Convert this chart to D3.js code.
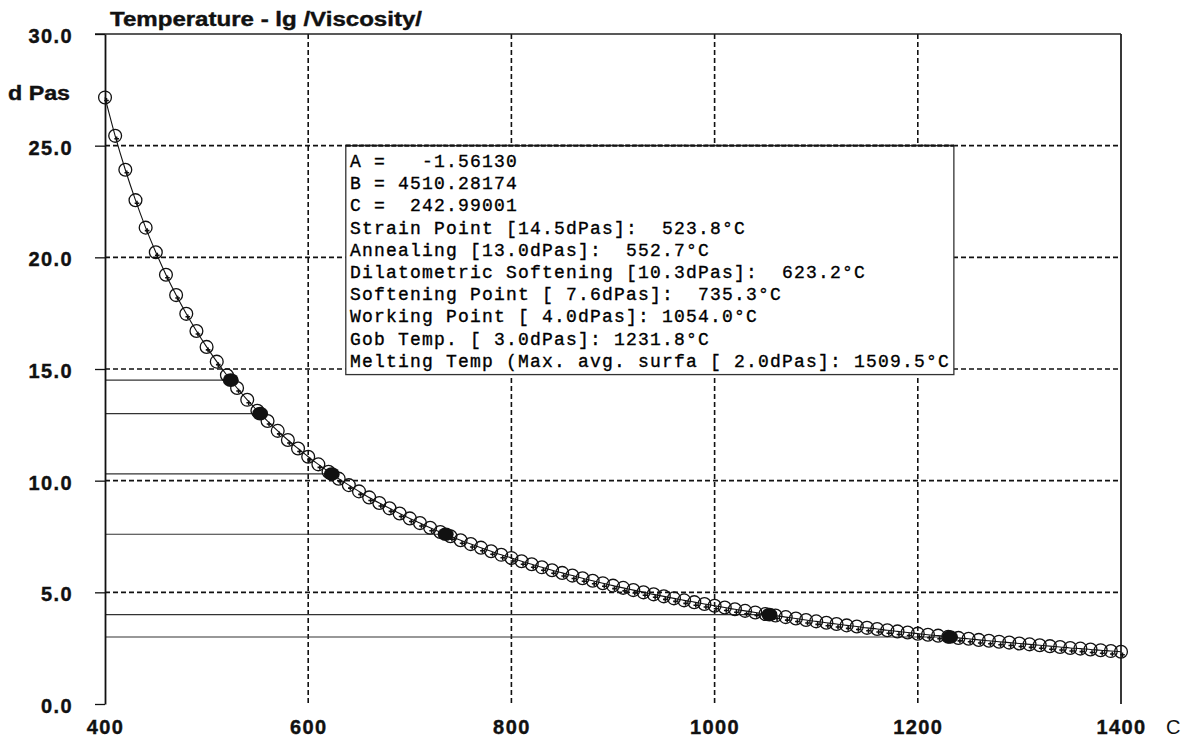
<!DOCTYPE html>
<html>
<head>
<meta charset="utf-8">
<script src="https://cdn.jsdelivr.net/npm/d3@7"></script>
<style>
  html, body { margin: 0; padding: 0; background: #fff; }
  svg { display: block; }
</style>
</head>
<body>
<svg id="chart" width="1191" height="741"></svg>
<script>
// ---------- data ----------
const temps = [400,410,420,430,440,450,460,470,480,490,500,510,520,530,540,550,560,570,580,590,
  600,610,620,630,640,650,660,670,680,690,700,710,720,730,740,750,760,770,780,790,
  800,810,820,830,840,850,860,870,880,890,900,910,920,930,940,950,960,970,980,990,
  1000,1010,1020,1030,1040,1050,1060,1070,1080,1090,1100,1110,1120,1130,1140,1150,1160,1170,1180,1190,
  1200,1210,1220,1230,1240,1250,1260,1270,1280,1290,1300,1310,1320,1330,1340,1350,1360,1370,1380,1390,1400];
const lgVisc = [27.16,25.44,23.92,22.56,21.33,20.23,19.22,18.31,17.47,16.70,15.99,15.33,14.72,14.15,13.62,13.13,12.67,12.23,11.82,11.44,
  11.07,10.73,10.40,10.09,9.80,9.52,9.25,9.00,8.76,8.53,8.31,8.10,7.89,7.70,7.51,7.33,7.16,7.00,6.84,6.68,
  6.54,6.39,6.26,6.12,5.99,5.87,5.75,5.63,5.52,5.41,5.30,5.20,5.10,5.00,4.91,4.82,4.73,4.64,4.56,4.48,
  4.40,4.32,4.24,4.17,4.10,4.03,3.96,3.89,3.83,3.76,3.70,3.64,3.58,3.52,3.47,3.41,3.36,3.30,3.25,3.20,
  3.15,3.10,3.06,3.01,2.96,2.92,2.87,2.83,2.79,2.75,2.71,2.67,2.63,2.59,2.55,2.51,2.48,2.44,2.41,2.37,2.34];

const fixName = ["Strain Point","Annealing","Dilatometric Softening","Softening Point","Working Point","Gob Temp."];
const fixVisc = [14.5,13.0,10.3,7.6,4.0,3.0];
const fixTemp = [523.8,552.7,623.2,735.3,1054.0,1231.8];

const infoLines = [
  "A =   -1.56130",
  "B = 4510.28174",
  "C =  242.99001",
  "Strain Point [14.5dPas]:  523.8°C",
  "Annealing [13.0dPas]:  552.7°C",
  "Dilatometric Softening [10.3dPas]:  623.2°C",
  "Softening Point [ 7.6dPas]:  735.3°C",
  "Working Point [ 4.0dPas]: 1054.0°C",
  "Gob Temp. [ 3.0dPas]: 1231.8°C",
  "Melting Temp (Max. avg. surfa [ 2.0dPas]: 1509.5°C"
];

const xTicks = [400,600,800,1000,1200,1400];
const yTicks = [0,5,10,15,20,25,30];
const xGrid = [600,800,1000,1200];
const yGrid = [5,10,15,20,25];

const titleText = "Temperature - lg /Viscosity/";
const yUnit = "d Pas";
const xUnit = "C";

// ---------- layout ----------
const svg = d3.select("#chart");
const x = d3.scaleLinear().domain([400,1400]).range([105,1121]);
const y = d3.scaleLinear().domain([0,30]).range([704,34]);
const sans = "'Liberation Sans', Arial, sans-serif";
const mono = "'Liberation Mono', 'Courier New', monospace";

// grid
const grid = svg.append("g").attr("stroke","#111").attr("stroke-width",1.6)
  .attr("stroke-dasharray","5,3").attr("fill","none");
grid.selectAll("line.v").data(xGrid).join("line").attr("class","v")
  .attr("x1",d=>x(d)).attr("x2",d=>x(d)).attr("y1",y(30)).attr("y2",y(0));
grid.selectAll("line.h").data(yGrid).join("line").attr("class","h")
  .attr("x1",x(400)).attr("x2",x(1400)).attr("y1",d=>y(d)).attr("y2",d=>y(d));

// frame: top and right
svg.append("line").attr("x1",95).attr("x2",x(1400)).attr("y1",y(30)).attr("y2",y(30))
  .attr("stroke","#222").attr("stroke-width",1.5);
svg.append("line").attr("x1",x(1400)).attr("x2",x(1400)).attr("y1",y(30)).attr("y2",y(0))
  .attr("stroke","#222").attr("stroke-width",1.8);

// reference lines for fixpoints
svg.append("g").selectAll("line").data(fixVisc).join("line")
  .attr("x1",x(400)).attr("x2",(d,i)=>x(fixTemp[i]))
  .attr("y1",d=>y(d)).attr("y2",d=>y(d))
  .attr("stroke","#333").attr("stroke-width",1.2);

// info box
const bx0 = x(637), bx1 = x(1235.5), by0 = y(25), by1 = y(14.75);
svg.append("rect").attr("x",bx0).attr("y",by0).attr("width",bx1-bx0).attr("height",by1-by0)
  .attr("fill","#fff").attr("stroke","#333").attr("stroke-width",1.3);
svg.append("line").attr("x1",bx0).attr("x2",bx1).attr("y1",by0).attr("y2",by0)
  .attr("stroke","#111").attr("stroke-width",2.2).attr("stroke-dasharray","5,1.5");
svg.append("g").selectAll("text").data(infoLines).join("text")
  .attr("x",350).attr("y",(d,i)=>167+i*22.2)
  .attr("font-family",mono).attr("font-size",18).attr("letter-spacing","1.2px")
  .attr("fill","#000").attr("stroke","#000").attr("stroke-width",0.35)
  .style("white-space","pre").attr("xml:space","preserve")
  .text(d=>d);

// axes
const yAxis = svg.append("g").attr("transform",`translate(${x(400)},0)`)
  .call(d3.axisLeft(y).tickValues(yTicks).tickFormat(d3.format(".1f")).tickSize(10).tickSizeOuter(0).tickPadding(22));
yAxis.select(".domain").attr("stroke","#111").attr("stroke-width",1.8);
yAxis.selectAll(".tick line").attr("stroke","#111").attr("stroke-width",1.3);
yAxis.selectAll("text").attr("font-family",sans).attr("font-weight","bold").attr("font-size",20)
  .attr("letter-spacing","1.4px").attr("dy","0.42em").attr("fill","#111")
  .attr("stroke","#111").attr("stroke-width",0.4);

const xAxis = svg.append("g").attr("transform",`translate(0,${y(0)})`)
  .call(d3.axisBottom(x).tickValues(xTicks).tickFormat(d3.format("d")).tickSize(0).tickPadding(16));
xAxis.select(".domain").remove();
xAxis.selectAll("text").attr("font-family",sans).attr("font-weight","bold").attr("font-size",20)
  .attr("letter-spacing","1.4px").attr("fill","#111")
  .attr("stroke","#111").attr("stroke-width",0.4);

// curve
const pts = temps.map((t,i)=>[t,lgVisc[i]]);
svg.append("path").datum(pts)
  .attr("d",d3.line().x(d=>x(d[0])).y(d=>y(d[1])).curve(d3.curveMonotoneX))
  .attr("fill","none").attr("stroke","#111").attr("stroke-width",1.1);

svg.append("g").selectAll("circle").data(pts).join("circle")
  .attr("cx",d=>x(d[0])).attr("cy",d=>y(d[1])).attr("r",6.4)
  .attr("fill","none").attr("stroke","#111").attr("stroke-width",1.3);

svg.append("g").selectAll("path").data(pts).join("path")
  .attr("transform",d=>`translate(${x(d[0])+1.5},${y(d[1])+3})`)
  .attr("d",d3.symbol(d3.symbolCross,12)())
  .attr("fill","#111");

// fixpoint markers
svg.append("g").selectAll("ellipse").data(fixVisc).join("ellipse")
  .attr("cx",(d,i)=>x(fixTemp[i])).attr("cy",d=>y(d)).attr("rx",8).attr("ry",6.8)
  .attr("fill","#111");

// texts
svg.append("text").attr("x",110).attr("y",26).attr("font-family",sans).attr("font-weight","bold")
  .attr("font-size",20).attr("textLength",312).attr("lengthAdjust","spacingAndGlyphs")
  .attr("fill","#111").attr("stroke","#111").attr("stroke-width",0.4).text(titleText);
svg.append("text").attr("x",8).attr("y",100).attr("font-family",sans).attr("font-weight","bold")
  .attr("font-size",20).attr("textLength",62).attr("lengthAdjust","spacingAndGlyphs")
  .attr("fill","#111").attr("stroke","#111").attr("stroke-width",0.4).text(yUnit);
svg.append("text").attr("x",1166).attr("y",734).attr("font-family",sans)
  .attr("font-size",20).attr("fill","#111").text(xUnit);
</script>
</body>
</html>
